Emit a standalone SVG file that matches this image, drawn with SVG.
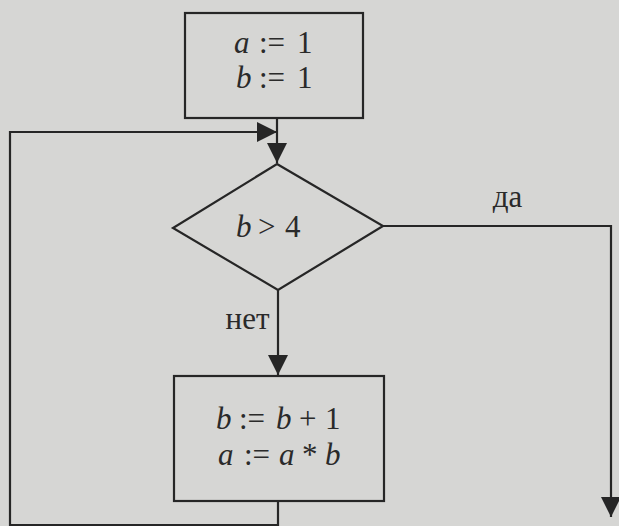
<svg xmlns="http://www.w3.org/2000/svg" width="619" height="526" viewBox="0 0 619 526">
<style>
.bg{fill:#d6d6d4}
.box{fill:none;stroke:#262626;stroke-width:2.2}
.ln{fill:none;stroke:#262626;stroke-width:2.2}
.m{font-family:'Liberation Serif','DejaVu Serif',serif;font-size:31px;fill:#2a2a2a}
.i{font-style:italic}
.lbl{font-family:'Liberation Serif','DejaVu Serif',serif;font-size:31px;fill:#2a2a2a}
</style>
<defs>
<marker id="ah" viewBox="0 0 20 20" refX="20" refY="10" markerWidth="20" markerHeight="20" markerUnits="userSpaceOnUse" orient="auto">
<path d="M0,0 L20,10 L0,20 Z" fill="#262626"/>
</marker>
</defs>
<rect class="bg" x="0" y="0" width="619" height="526"/>
<g id="connectors">
<line class="ln" x1="277" y1="118" x2="277" y2="163" marker-end="url(#ah)"/>
<polyline class="ln" points="278,501 278,525 10,525 10,132 277,132" marker-end="url(#ah)"/>
<polyline class="ln" points="383,226 611,226 611,517" marker-end="url(#ah)"/>
<line class="ln" x1="278" y1="290" x2="278" y2="375" marker-end="url(#ah)"/>
<text class="lbl" x="507.5" y="207" text-anchor="middle">да</text>
<text class="lbl" x="247.5" y="329" text-anchor="middle">нет</text>
</g>
<g id="init">
<rect class="box" x="185" y="13" width="178" height="105"/>
<text class="m" y="53"><tspan class="i" x="234">a</tspan><tspan x="259">:=</tspan><tspan x="297">1</tspan></text>
<text class="m" y="88"><tspan class="i" x="236">b</tspan><tspan x="259">:=</tspan><tspan x="297">1</tspan></text>
</g>
<g id="cond">
<polygon class="box" points="277,164 383,226 278,290 173,228"/>
<text class="m" y="237"><tspan class="i" x="236">b</tspan><tspan x="258">&gt;</tspan><tspan x="285">4</tspan></text>
</g>
<g id="body">
<rect class="box" x="174" y="376" width="210" height="125"/>
<text class="m" y="429"><tspan class="i" x="216">b</tspan><tspan x="239">:=</tspan><tspan class="i" x="276">b</tspan><tspan x="299">+</tspan><tspan x="325">1</tspan></text>
<text class="m" y="465"><tspan class="i" x="218">a</tspan><tspan x="244">:=</tspan><tspan class="i" x="279">a</tspan><tspan x="302">*</tspan><tspan class="i" x="325">b</tspan></text>
</g>
</svg>
